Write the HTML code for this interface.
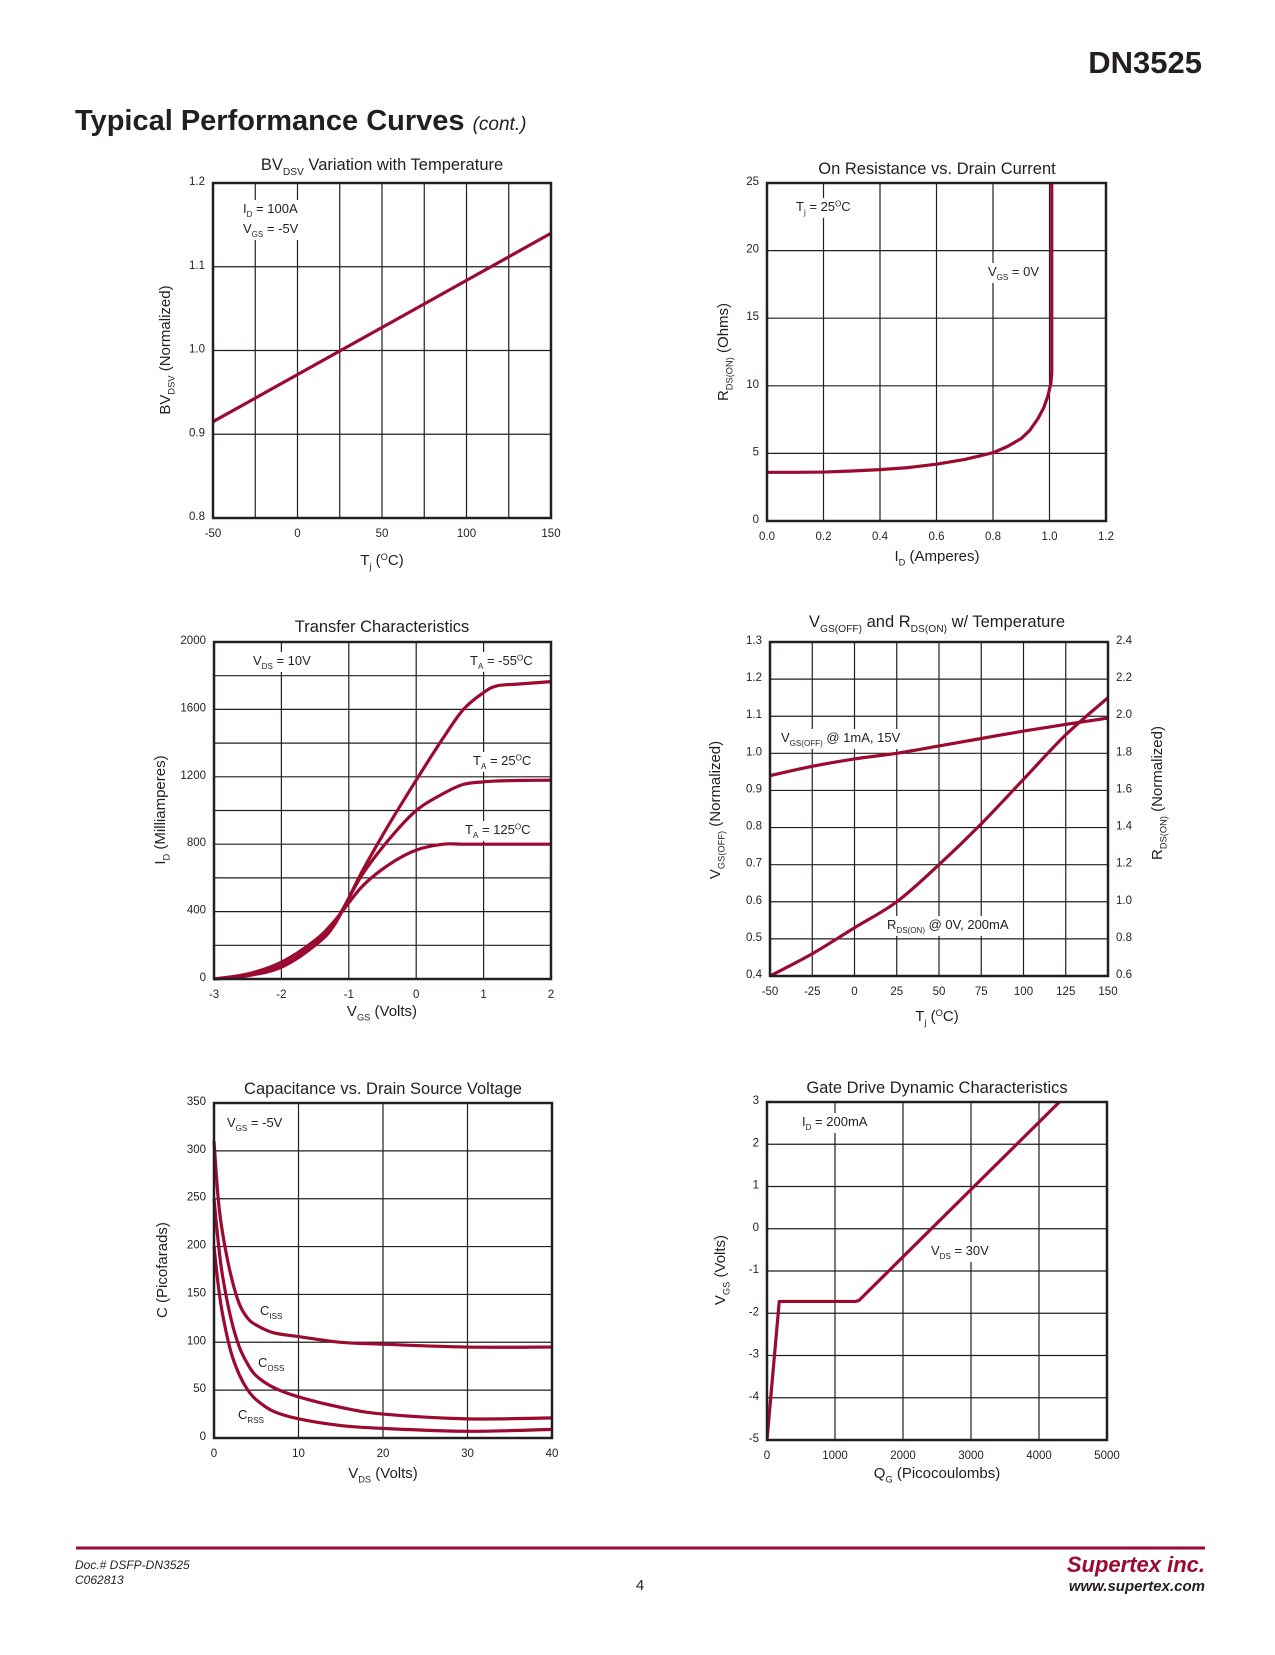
<!DOCTYPE html>
<html><head><meta charset="utf-8">
<style>
html,body{margin:0;padding:0;background:#fff;}
body{width:1275px;height:1650px;position:relative;overflow:hidden;font-family:"Liberation Sans",sans-serif;}
svg text{font-family:"Liberation Sans",sans-serif;fill:#231f20;}
</style></head>
<body>
<svg id="page" width="1275" height="1650" viewBox="0 0 1275 1650" xmlns="http://www.w3.org/2000/svg">
<text x="1202" y="73" text-anchor="end" font-size="31" font-weight="bold">DN3525</text>
<text x="75" y="130" font-size="29" font-weight="bold">Typical Performance Curves <tspan font-size="19" font-weight="normal" font-style="italic">(cont.)</tspan></text>

<g id="charts"></g>

<line x1="76" y1="1548" x2="1205" y2="1548" stroke="#9b0a30" stroke-width="3"/>
<text x="75" y="1569" font-size="12" font-style="italic">Doc.# DSFP-DN3525</text>
<text x="75" y="1584" font-size="12" font-style="italic">C062813</text>
<text x="640" y="1590" font-size="15" text-anchor="middle">4</text>
<text x="1205" y="1572" font-size="22" font-weight="bold" font-style="italic" text-anchor="end" style="fill:#9b0a30">Supertex inc.</text>
<text x="1205" y="1591" font-size="15" font-weight="bold" font-style="italic" text-anchor="end">www.supertex.com</text>
</svg>
<script>
// ---- Chart 1: BVDSV vs temperature
const c1Temp = [-50, 150];
const c1BV = [0.915, 1.14];
const c1XTicks = ["-50","0","50","100","150"];
const c1YTicks = ["0.8","0.9","1.0","1.1","1.2"];
// ---- Chart 2: On resistance vs drain current
const c2Id = [0, 0.1, 0.2, 0.3, 0.4, 0.5, 0.6, 0.7, 0.8, 0.85, 0.9, 0.93, 0.96, 0.98, 0.995, 1.005, 1.008, 1.008];
const c2R = [3.6, 3.6, 3.62, 3.7, 3.8, 3.95, 4.2, 4.55, 5.05, 5.5, 6.1, 6.7, 7.6, 8.4, 9.3, 10.2, 11, 25];
const c2XTicks = ["0.0","0.2","0.4","0.6","0.8","1.0","1.2"];
const c2YTicks = ["0","5","10","15","20","25"];
// ---- Chart 3: Transfer characteristics
const c3Vgs = [-3, -2.5, -2, -1.5, -1.2, -0.8, -0.4, 0, 0.4, 0.7, 1.0, 1.2, 1.5, 2];
const c3Im55 = [0, 20, 70, 200, 330, 640, 920, 1180, 1430, 1600, 1700, 1740, 1750, 1765];
const c3I25 = [0, 25, 80, 210, 340, 620, 830, 1000, 1100, 1155, 1170, 1175, 1178, 1180];
const c3I125 = [0, 30, 100, 230, 350, 550, 680, 765, 800, 800, 800, 800, 800, 800];
const c3XTicks = ["-3","-2","-1","0","1","2"];
const c3YTicks = ["0","400","800","1200","1600","2000"];
// ---- Chart 4: VGS(OFF) and RDS(ON) vs temperature
const c4Temp = [-50, -25, 0, 25, 50, 75, 100, 125, 150];
const c4Vgsoff = [0.94, 0.965, 0.985, 1.0, 1.02, 1.04, 1.06, 1.078, 1.095];
const c4Rdson = [0.6, 0.72, 0.86, 1.0, 1.2, 1.42, 1.66, 1.9, 2.1];
const c4XTicks = ["-50","-25","0","25","50","75","100","125","150"];
const c4YTicks = ["0.4","0.5","0.6","0.7","0.8","0.9","1.0","1.1","1.2","1.3"];
const c4Y2Ticks = ["0.6","0.8","1.0","1.2","1.4","1.6","1.8","2.0","2.2","2.4"];
// ---- Chart 5: Capacitance vs VDS
const c5Vds = [0, 0.5, 1, 2, 3, 4, 5, 7, 10, 15, 20, 30, 40];
const c5Ciss = [310, 250, 215, 170, 140, 125, 118, 110, 106, 100, 98, 95, 95];
const c5Coss = [250, 205, 170, 125, 95, 77, 65, 53, 43, 32, 25, 20, 21];
const c5Crss = [200, 160, 130, 90, 66, 50, 40, 28, 20, 13, 10, 7, 9];
const c5XTicks = ["0","10","20","30","40"];
const c5YTicks = ["0","50","100","150","200","250","300","350"];
// ---- Chart 6: Gate drive
const c6Qg = [0, 180, 1300, 1350, 4300];
const c6Vgs = [-5, -1.72, -1.72, -1.7, 3];
const c6XTicks = ["0","1000","2000","3000","4000","5000"];
const c6YTicks = ["-5","-4","-3","-2","-1","0","1","2","3"];

const NS = "http://www.w3.org/2000/svg";
const RED = "#9b0a30";
const root = document.getElementById("charts");
function mk(tag, attrs, parent){
  const e = document.createElementNS(NS, tag);
  for (const k in attrs) e.setAttribute(k, attrs[k]);
  (parent||root).appendChild(e);
  return e;
}
function scale(d0,d1,r0,r1){return v => r0 + (v-d0)/(d1-d0)*(r1-r0);}
function smooth(pts){
  let d = "M" + pts[0][0] + "," + pts[0][1];
  for (let i=0;i<pts.length-1;i++){
    const p0=pts[Math.max(0,i-1)], p1=pts[i], p2=pts[i+1], p3=pts[Math.min(pts.length-1,i+2)];
    const t=6;
    d += " C" + (p1[0]+(p2[0]-p0[0])/t) + "," + (p1[1]+(p2[1]-p0[1])/t) + " " + (p2[0]-(p3[0]-p1[0])/t) + "," + (p2[1]-(p3[1]-p1[1])/t) + " " + p2[0] + "," + p2[1];
  }
  return d;
}
function frame(name, L,R,T,B, xTicks, yTicks, nxGrid, nyGrid){
  const g = mk("g",{});
  
  
  for (let i=1;i<nxGrid;i++){const x=L+(R-L)*i/nxGrid;const l=mk("line",{x1:x,y1:T,x2:x,y2:B,stroke:"#231f20","stroke-width":1.2},g);
    
    }
  for (let i=1;i<nyGrid;i++){const y=T+(B-T)*i/nyGrid;const l=mk("line",{x1:L,y1:y,x2:R,y2:y,stroke:"#231f20","stroke-width":1.2},g);
    
    }
  xTicks.forEach((t,i)=>{const x=L+(R-L)*i/(xTicks.length-1);
    const e=mk("text",{x:x,y:B+19,"font-size":11.5,"text-anchor":"middle"},g);e.textContent=t;
    
    });
  yTicks.forEach((t,i)=>{const y=B-(B-T)*i/(yTicks.length-1);
    const e=mk("text",{x:L-8,y:y+2,"font-size":11.5,"text-anchor":"end"},g);e.textContent=t;
    
    });
  return g;
}
function border(g,L,R,T,B){
  const r=mk("rect",{x:L,y:T,width:R-L,height:B-T,fill:"none",stroke:"#231f20","stroke-width":2.5},g);
  
  
}
function series(g,name,xs,ys,sx,sy,curved){
  const pts=xs.map((x,i)=>[sx(x),sy(ys[i])]);
  const d = curved? smooth(pts) : "M"+pts.map(p=>p.join(",")).join(" L");
  const p=mk("path",{d:d,fill:"none",stroke:RED,"stroke-width":3.2,"stroke-linejoin":"round"},g);
  
  
}
function label(g,name,x,y,parts,size,anchor,rot,bg){
  const t=mk("text",{x:x,y:y,"font-size":size,"text-anchor":anchor||"start"},g);
  if(rot) t.setAttribute("transform","rotate(-90 "+x+" "+y+")");
  
  
  let shift=0;
  parts.forEach(p=>{
    const s=document.createElementNS(NS,"tspan");
    let target = p[1]==="sub"? size*0.3 : p[1]==="sup"? -size*0.35 : 0;
    s.setAttribute("dy", target-shift); shift=target;
    if(p[1]) s.setAttribute("font-size", size*0.62);
    s.textContent=p[0]; t.appendChild(s);
  });
  if(bg){
    const b=t.getBBox();
    const r=mk("rect",{x:b.x-3,y:b.y-1,width:b.width+6,height:b.height+2,fill:"#fff"},g);
    g.insertBefore(r,t);
  }
  return t;
}

// Chart 1
(function(){
  const L=213,R=551,T=183,B=518;
  const g=frame("bvdsv-chart",L,R,T,B,c1XTicks,c1YTicks,8,4);
  const sx=scale(-50,150,L,R), sy=scale(0.8,1.2,B,T);
  label(g,"chart-title",382,170,[["BV",""],["DSV","sub"],[" Variation with Temperature",""]],16.5,"middle");
  label(g,"annotation-id",243,213,[["I",""],["D","sub"],[" = 100A",""]],13,"start",false,true);
  label(g,"annotation-vgs",243,233,[["V",""],["GS","sub"],[" = -5V",""]],13,"start",false,true);
  series(g,"bvdsv-line",c1Temp,c1BV,sx,sy,false);
  border(g,L,R,T,B);
  label(g,"x-axis-title",382,565,[["T",""],["j","sub"],[" (",""],["O","sup"],["C)",""]],15,"middle");
  label(g,"y-axis-title",170,350,[["BV",""],["DSV","sub"],[" (Normalized)",""]],15,"middle",true);
})();
// Chart 2
(function(){
  const L=767,R=1106,T=183,B=521;
  const g=frame("on-resistance-chart",L,R,T,B,c2XTicks,c2YTicks,6,5);
  const sx=scale(0,1.2,L,R), sy=scale(0,25,B,T);
  label(g,"chart-title",937,174,[["On Resistance vs. Drain Current",""]],16.5,"middle");
  label(g,"annotation-tj",796,211,[["T",""],["j","sub"],[" = 25",""],["O","sup"],["C",""]],13,"start",false,true);
  label(g,"annotation-vgs",988,276,[["V",""],["GS","sub"],[" = 0V",""]],13,"start",false,true);
  series(g,"rdson-curve",c2Id,c2R,sx,sy,false);
  border(g,L,R,T,B);
  label(g,"x-axis-title",937,561,[["I",""],["D","sub"],[" (Amperes)",""]],15,"middle");
  label(g,"y-axis-title",728,352,[["R",""],["DS(ON)","sub"],[" (Ohms)",""]],15,"middle",true);
})();
// Chart 3
(function(){
  const L=214,R=551,T=642,B=979;
  const g=frame("transfer-chart",L,R,T,B,c3XTicks,c3YTicks,5,10);
  const sx=scale(-3,2,L,R), sy=scale(0,2000,B,T);
  label(g,"chart-title",382,632,[["Transfer Characteristics",""]],16.5,"middle");
  label(g,"annotation-vds",253,665,[["V",""],["DS","sub"],[" = 10V",""]],13,"start",false,true);
  label(g,"label-ta-minus55",470,665,[["T",""],["A","sub"],[" = -55",""],["O","sup"],["C",""]],13,"start",false,true);
  label(g,"label-ta-25",473,765,[["T",""],["A","sub"],[" = 25",""],["O","sup"],["C",""]],13,"start",false,true);
  label(g,"label-ta-125",465,834,[["T",""],["A","sub"],[" = 125",""],["O","sup"],["C",""]],13,"start",false,true);
  series(g,"curve-minus55c",c3Vgs,c3Im55,sx,sy,true);
  series(g,"curve-25c",c3Vgs,c3I25,sx,sy,true);
  series(g,"curve-125c",c3Vgs,c3I125,sx,sy,true);
  border(g,L,R,T,B);
  label(g,"x-axis-title",382,1016,[["V",""],["GS","sub"],[" (Volts)",""]],15,"middle");
  label(g,"y-axis-title",165,810,[["I",""],["D","sub"],[" (Milliamperes)",""]],15,"middle",true);
})();
// Chart 4
(function(){
  const L=770,R=1108,T=642,B=976;
  const g=frame("temperature-chart",L,R,T,B,c4XTicks,c4YTicks,8,9);
  c4Y2Ticks.forEach((t,i)=>{const y=B-(B-T)*i/(c4Y2Ticks.length-1);
    const e=mk("text",{x:R+8,y:y+2,"font-size":11.5},g);e.textContent=t;
    
    });
  const sx=scale(-50,150,L,R), sy=scale(0.4,1.3,B,T), sy2=scale(0.6,2.4,B,T);
  label(g,"chart-title",937,627,[["V",""],["GS(OFF)","sub"],[" and R",""],["DS(ON)","sub"],[" w/ Temperature",""]],16.5,"middle");
  label(g,"label-vgsoff",781,742,[["V",""],["GS(OFF)","sub"],[" @ 1mA, 15V",""]],13,"start",false,true);
  label(g,"label-rdson",887,929,[["R",""],["DS(ON)","sub"],[" @ 0V, 200mA",""]],13,"start",false,true);
  series(g,"vgsoff-curve",c4Temp,c4Vgsoff,sx,sy,true);
  series(g,"rdson-curve",c4Temp,c4Rdson,sx,sy2,true);
  border(g,L,R,T,B);
  label(g,"x-axis-title",937,1021,[["T",""],["j","sub"],[" (",""],["O","sup"],["C)",""]],15,"middle");
  label(g,"y-axis-title-left",720,810,[["V",""],["GS(OFF)","sub"],[" (Normalized)",""]],15,"middle",true);
  label(g,"y-axis-title-right",1162,793,[["R",""],["DS(ON)","sub"],[" (Normalized)",""]],15,"middle",true);
})();
// Chart 5
(function(){
  const L=214,R=552,T=1103,B=1438;
  const g=frame("capacitance-chart",L,R,T,B,c5XTicks,c5YTicks,4,7);
  const sx=scale(0,40,L,R), sy=scale(0,350,B,T);
  label(g,"chart-title",383,1094,[["Capacitance vs. Drain Source Voltage",""]],16.5,"middle");
  label(g,"annotation-vgs",227,1127,[["V",""],["GS","sub"],[" = -5V",""]],13,"start",false,true);
  label(g,"label-ciss",260,1315,[["C",""],["ISS","sub"]],13,"start");
  label(g,"label-coss",258,1367,[["C",""],["OSS","sub"]],13,"start");
  label(g,"label-crss",238,1419,[["C",""],["RSS","sub"]],13,"start");
  series(g,"ciss-curve",c5Vds,c5Ciss,sx,sy,true);
  series(g,"coss-curve",c5Vds,c5Coss,sx,sy,true);
  series(g,"crss-curve",c5Vds,c5Crss,sx,sy,true);
  border(g,L,R,T,B);
  label(g,"x-axis-title",383,1478,[["V",""],["DS","sub"],[" (Volts)",""]],15,"middle");
  label(g,"y-axis-title",167,1270,[["C (Picofarads)",""]],15,"middle",true);
})();
// Chart 6
(function(){
  const L=767,R=1107,T=1102,B=1440;
  const g=frame("gate-drive-chart",L,R,T,B,c6XTicks,c6YTicks,5,8);
  const sx=scale(0,5000,L,R), sy=scale(-5,3,B,T);
  label(g,"chart-title",937,1093,[["Gate Drive Dynamic Characteristics",""]],16.5,"middle");
  label(g,"annotation-id",802,1126,[["I",""],["D","sub"],[" = 200mA",""]],13,"start",false,true);
  label(g,"label-vds",931,1255,[["V",""],["DS","sub"],[" = 30V",""]],13,"start",false,true);
  const cl=mk("clipPath",{id:"c6clip"},g);
  mk("rect",{x:L,y:T,width:R-L,height:B-T},cl);
  const sg=mk("g",{"clip-path":"url(#c6clip)"},g);
  series(sg,"vgs-curve",c6Qg,c6Vgs,sx,sy,false);
  border(g,L,R,T,B);
  label(g,"x-axis-title",937,1478,[["Q",""],["G","sub"],[" (Picocoulombs)",""]],15,"middle");
  label(g,"y-axis-title",725,1270,[["V",""],["GS","sub"],[" (Volts)",""]],15,"middle",true);
})();
</script>
</body></html>
